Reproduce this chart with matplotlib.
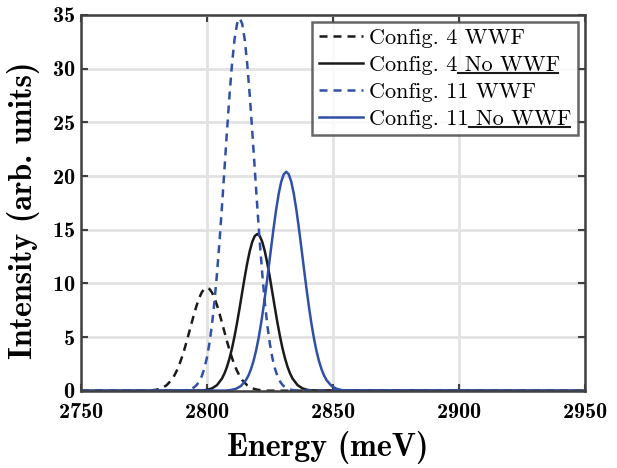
import matplotlib
matplotlib.use('Agg')
import matplotlib.pyplot as plt
from matplotlib.lines import Line2D

plt.rcParams['font.family'] = 'cmr10'
plt.rcParams['axes.formatter.use_mathtext'] = True

# Config. 4, with wavefunction (WWF)
e_c4_wwf = [2750, 2776, 2778, 2780, 2782, 2784, 2786, 2787, 2788, 2789, 2790, 2791, 2792,
            2793, 2794, 2795, 2796, 2797, 2798, 2799, 2800, 2801, 2802, 2803, 2804, 2805,
            2806, 2807, 2808, 2809, 2810, 2811, 2812, 2813, 2814, 2816, 2818, 2820, 2822,
            2824, 2950]
i_c4_wwf = [0, 0.01, 0.04, 0.10, 0.23, 0.51, 1.01, 1.38, 1.84, 2.39, 3.05, 3.79, 4.60,
            5.47, 6.35, 7.20, 7.99, 8.66, 9.17, 9.49, 9.60, 9.49, 9.17, 8.66, 7.99, 7.20,
            6.35, 5.47, 4.60, 3.79, 3.05, 2.39, 1.84, 1.38, 1.01, 0.51, 0.23, 0.10, 0.04,
            0.01, 0]

# Config. 4, no WWF
e_c4_nowwf = [2750, 2798, 2800, 2802, 2804, 2806, 2807, 2808, 2809, 2810, 2811, 2812, 2813,
              2814, 2815, 2816, 2817, 2818, 2819, 2820, 2821, 2822, 2823, 2824, 2825, 2826,
              2827, 2828, 2829, 2830, 2831, 2832, 2833, 2834, 2836, 2838, 2840, 2842, 2950]
i_c4_nowwf = [0, 0.03, 0.08, 0.22, 0.52, 1.14, 1.62, 2.24, 3.03, 3.97, 5.09, 6.35, 7.72,
              9.14, 10.55, 11.86, 12.99, 13.86, 14.41, 14.60, 14.41, 13.86, 12.99, 11.86, 10.55, 9.14,
              7.72, 6.35, 5.09, 3.97, 3.03, 2.24, 1.62, 1.14, 0.52, 0.22, 0.08, 0.03, 0]

# Config. 11, WWF
e_c11_wwf = [2750, 2791, 2793, 2795, 2796, 2797, 2798, 2799, 2800, 2801,
             2802, 2803, 2804, 2805, 2806, 2807, 2808, 2809, 2810, 2811,
             2812, 2813, 2814, 2815, 2816, 2817, 2818, 2819, 2820, 2821,
             2822, 2823, 2824, 2825, 2826, 2827, 2828, 2829, 2830, 2831,
             2833, 2835, 2950]
i_c11_wwf = [0, 0.03, 0.11, 0.33, 0.55, 0.88, 1.37, 2.08, 3.06, 4.38,
             6.10, 8.25, 10.84, 13.84, 17.17, 20.69, 24.23, 27.58, 30.49, 32.76,
             34.20, 34.70, 34.20, 32.76, 30.49, 27.58, 24.23, 20.69, 17.17, 13.84,
             10.84, 8.25, 6.10, 4.38, 3.06, 2.08, 1.37, 0.88, 0.55, 0.33,
             0.11, 0.03, 0]

# Config. 11, no WWF
e_c11_nowwf = [2750, 2807.5, 2809.5, 2811.5, 2813.5, 2815.5, 2816.5, 2817.5, 2818.5, 2819.5,
               2820.5, 2821.5, 2822.5, 2823.5, 2824.5, 2825.5, 2826.5, 2827.5, 2828.5, 2829.5,
               2830.5, 2831.5, 2832.5, 2833.5, 2834.5, 2835.5, 2836.5, 2837.5, 2838.5, 2839.5,
               2840.5, 2841.5, 2842.5, 2843.5, 2844.5, 2845.5, 2846.5, 2847.5, 2849.5, 2851.5,
               2853.5, 2855.5, 2950]
i_c11_nowwf = [0, 0.02, 0.07, 0.18, 0.44, 0.99, 1.42, 2.01, 2.76, 3.71,
               4.87, 6.25, 7.82, 9.57, 11.42, 13.32, 15.18, 16.88, 18.34, 19.46,
               20.16, 20.40, 20.16, 19.46, 18.34, 16.88, 15.18, 13.32, 11.42, 9.57,
               7.82, 6.25, 4.87, 3.71, 2.76, 2.01, 1.42, 0.99, 0.44, 0.18,
               0.07, 0.02, 0]

labels = ['Config. 4 WWF', 'Config. 4 No WWF', 'Config. 11 WWF', 'Config. 11 No WWF']

black = '#1a1a1a'
blue = '#3050a8'
dash = (0, (3.2, 2.4))

fig = plt.figure(figsize=(6.17, 4.68), dpi=100)
ax = fig.add_axes([0.131, 0.165, 0.817, 0.803])

kw = dict(lw=1.8, solid_joinstyle='round', dash_joinstyle='round')
ax.plot(e_c4_wwf, i_c4_wwf, color=black, ls=dash, label=labels[0], **kw)
ax.plot(e_c4_nowwf, i_c4_nowwf, color=black, ls='-', label=labels[1], **kw)
ax.plot(e_c11_wwf, i_c11_wwf, color=blue, ls=dash, label=labels[2], **kw)
ax.plot(e_c11_nowwf, i_c11_nowwf, color=blue, ls='-', label=labels[3], **kw)

ax.set_xlim(2750, 2950)
ax.set_ylim(0, 35)
ax.set_xticks([2750, 2800, 2850, 2900, 2950])
ax.set_yticks(range(0, 36, 5))
ax.grid(True, color='#e2e2e2', lw=2)
ax.set_axisbelow(True)
for s in ax.spines.values():
    s.set_color('#404040')
    s.set_linewidth(1.8)
ax.tick_params(direction='in', length=5, width=1.5, color='#404040',
               labelsize=16, top=True, right=True)
ax.tick_params(axis='x', pad=9)
ax.tick_params(axis='y', pad=4)
for lab in ax.get_xticklabels() + ax.get_yticklabels():
    lab.set_fontfamily('cmb10')

ax.set_xlabel('Energy (meV)', fontfamily='cmb10', fontsize=23)
ax.set_ylabel('Intensity (arb. units)', fontfamily='cmb10', fontsize=23)
ax.xaxis.set_label_coords(0.49, -0.108)
ax.yaxis.set_label_coords(-0.08, 0.48)

leg = ax.legend(loc='upper right', fontsize=16, frameon=True, fancybox=False,
                handlelength=2.0, handletextpad=0.27, borderpad=0.3, labelspacing=0.33,
                borderaxespad=0.3)
leg.get_frame().set_edgecolor('#404040')
leg.get_frame().set_linewidth(1.8)

# underline the "No WWF" part of the labels
fig.canvas.draw()
r = fig.canvas.get_renderer()
W, H = fig.bbox.width, fig.bbox.height
for t in leg.get_texts():
    s = t.get_text()
    if 'No' not in s:
        continue
    prefix = s[:s.index(' No')]
    bb = t.get_window_extent(r)
    fp = t.get_fontproperties()
    w_pre, _, _ = r.get_text_width_height_descent(prefix, fp, ismath=False)
    x0 = bb.x0 + w_pre
    x1 = bb.x1 - 2
    y = bb.y0 + 2
    fig.add_artist(Line2D([x0 / W, x1 / W], [y / H, y / H], color=black, lw=1.5,
                          transform=fig.transFigure))

fig.savefig('out.png', dpi=100)
